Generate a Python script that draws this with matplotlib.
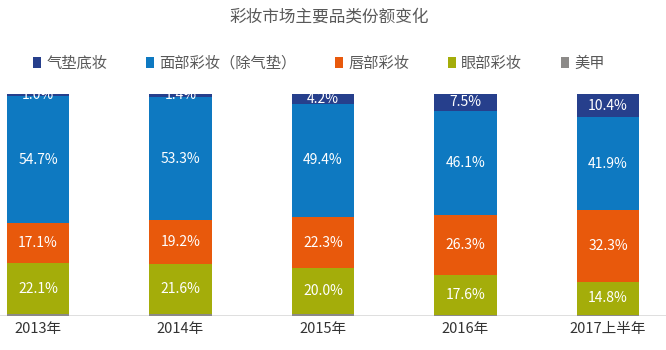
import numpy as np
import matplotlib.pyplot as plt
from matplotlib.patches import Patch

plt.rcParams['font.family'] = ['Noto Sans CJK SC', 'DejaVu Sans']

years = ['2013年', '2014年', '2015年', '2016年', '2017上半年']
series = ['气垫底妆', '面部彩妆（除气垫）', '唇部彩妆', '眼部彩妆', '美甲']

cushion = [1.0, 1.4, 4.2, 7.5, 10.4]
face = [54.7, 53.3, 49.4, 46.1, 41.9]
lip = [17.1, 19.2, 22.3, 26.3, 32.3]
eye = [22.1, 21.6, 20.0, 17.6, 14.8]
nail = [0.8, 0.8, 0.7, 0.6, 0.6]  # no labels on the chart, thin slivers only

colors = ['#263f8c', '#0e79c1', '#e8590c', '#a4ad0a', '#8c8a88']

# stacked bottom-up: nail, eye, lip, face, cushion
stack = [(nail, colors[4], False), (eye, colors[3], True), (lip, colors[2], True),
         (face, colors[1], True), (cushion, colors[0], True)]

total = np.array(cushion) + np.array(face) + np.array(lip) + np.array(eye) + np.array(nail)

fig = plt.figure(figsize=(6.66, 3.5), dpi=100)
ax = fig.add_axes([0, 34 / 350, 1, 222 / 350])

x = np.arange(len(years))
bottom = np.zeros(len(years))
for vals, col, show in stack:
    v = np.array(vals)
    h = v / total
    ax.bar(x, h, width=0.44, bottom=bottom, color=col, linewidth=0)
    if show:
        for i in range(len(x)):
            yc = bottom[i] + h[i] / 2
            if h[i] < 0.02:
                yc = bottom[i] + h[i] - 0.006
            ax.text(x[i], yc, f'{v[i]:.1f}%', ha='center', va='center',
                    color='white', fontsize=10)
    bottom += h

ax.set_xlim(-38 / 142.5, (666 - 38) / 142.5)
ax.set_ylim(0, 1)
ax.axhline(0, color='#d9d9d9', lw=1.2, zorder=0)
for s in ax.spines.values():
    s.set_visible(False)
ax.set_yticks([])
ax.set_xticks(x)
ax.set_xticklabels(years, fontsize=10.5, color='#333333')
ax.tick_params(axis='x', length=0, pad=4)

fig.text(0.495, 0.95, '彩妆市场主要品类份额变化', ha='center', va='center',
         fontsize=12, color='#595959')

handles = [Patch(facecolor=c, edgecolor='none') for c in colors]
fig.legend(handles, series, loc='center left', bbox_to_anchor=(0.05, 0.82),
           ncol=5, frameon=False, fontsize=11, handlelength=0.5,
           handleheight=0.7, handletextpad=0.35, columnspacing=2.55,
           labelcolor='#595959', borderaxespad=0, borderpad=0)

fig.savefig('out.png', dpi=100)
